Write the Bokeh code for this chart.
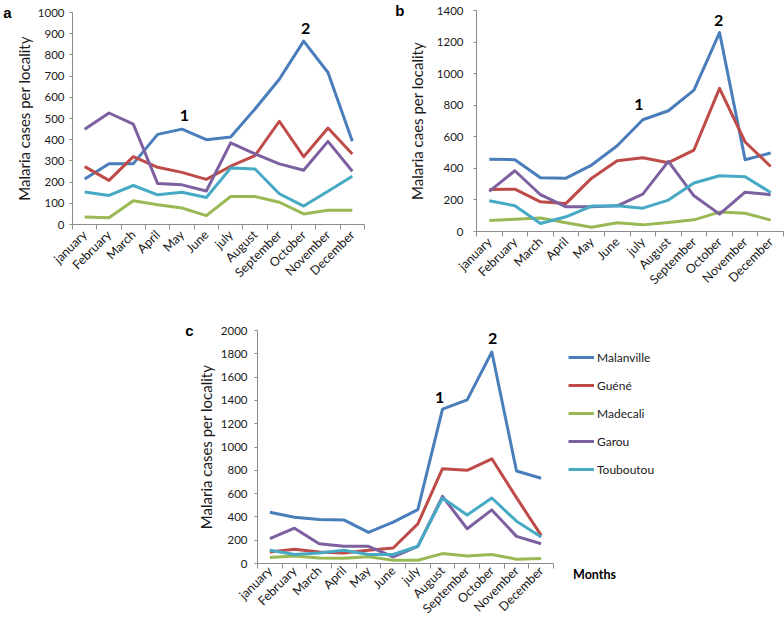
from bokeh.plotting import figure
from bokeh.models import (Range1d, FixedTicker, CustomJSTickFormatter, Label,
                          Legend, LegendItem, Spacer, LinearAxis)
from bokeh.layouts import column, row
from bokeh.embed import file_html
from bokeh.resources import INLINE

months = ["january", "February", "March", "April", "May", "June", "july",
          "August", "September", "October", "November", "December"]
localities = ["Malanville", "Guéné", "Madecali", "Garou", "Touboutou"]
colors = ["#4a7ebb", "#be4b48", "#98b954", "#7d60a0", "#46aac5"]

# Panel a
a_malanville = [215, 287, 287, 425, 450, 400, 413, 545, 685, 865, 717, 393]
a_guene = [273, 208, 320, 270, 246, 213, 275, 325, 487, 320, 455, 333]
a_madecali = [35, 32, 112, 93, 78, 42, 132, 132, 105, 50, 67, 67]
a_garou = [449, 526, 473, 193, 187, 158, 385, 333, 286, 256, 392, 251]
a_touboutou = [153, 137, 184, 140, 152, 127, 266, 262, 145, 87, 157, 228]
a_ticks = [0, 100, 200, 300, 400, 500, 600, 700, 800, 900, 1000]

# Panel b
b_malanville = [457, 455, 340, 338, 421, 543, 708, 765, 896, 1260, 455, 497]
b_guene = [266, 268, 188, 178, 338, 448, 467, 436, 516, 907, 567, 412]
b_madecali = [70, 78, 85, 55, 27, 55, 42, 57, 74, 123, 116, 72]
b_garou = [254, 385, 233, 156, 156, 163, 237, 444, 226, 110, 249, 233]
b_touboutou = [195, 163, 51, 93, 161, 163, 148, 199, 307, 353, 347, 247]
b_ticks = [0, 200, 400, 600, 800, 1000, 1200, 1400]

# Panel c
c_malanville = [440, 397, 377, 374, 267, 355, 462, 1325, 1404, 1815, 794, 732]
c_guene = [99, 122, 99, 91, 113, 133, 340, 814, 800, 899, 565, 241]
c_madecali = [51, 65, 48, 45, 57, 28, 28, 85, 65, 77, 37, 43]
c_garou = [213, 303, 170, 148, 148, 57, 148, 576, 298, 460, 233, 170]
c_touboutou = [113, 77, 91, 113, 77, 77, 148, 562, 417, 562, 363, 227]
c_ticks = [0, 200, 400, 600, 800, 1000, 1200, 1400, 1600, 1800, 2000]

FONT = "Lato"
AXIS_COLOR = "#8c8c8c"
TEXT_COLOR = "#1a1a1a"
LINE_W = 3


def panel(series, ticks, ylabel, width, height, bl, br, bt, bb, letter,
          peaks, label_std=8, axis_std=5, letter_std=4, xlabel_std=3):
    p = figure(width=width, height=height, output_backend="svg", toolbar_location=None,
               x_range=Range1d(0, len(months)), y_range=Range1d(ticks[0], ticks[-1]),
               min_border_left=bl, min_border_right=br, min_border_top=bt,
               min_border_bottom=bb, background_fill_color="white",
               border_fill_color="white", frame_align=False)
    p.outline_line_color = None
    p.grid.visible = False
    xs = [i + 0.5 for i in range(len(months))]
    rs = []
    for vals, col in zip(series, colors):
        rs.append(p.line(xs, vals, line_color=col, line_width=LINE_W, line_join="round"))

    xa = p.xaxis[0]
    xa.ticker = FixedTicker(ticks=xs, minor_ticks=list(range(len(months) + 1)))
    xa.formatter = CustomJSTickFormatter(args=dict(months=months),
                                         code="return months[Math.floor(tick)] || '';")
    xa.major_tick_in = 0
    xa.major_tick_out = 0
    xa.minor_tick_in = 0
    xa.minor_tick_out = 5
    xa.minor_tick_line_color = AXIS_COLOR
    xa.axis_line_color = AXIS_COLOR
    xa.major_label_orientation = 0.785398
    xa.major_label_standoff = xlabel_std
    xa.major_label_text_font = FONT
    xa.major_label_text_font_size = "12.5px"
    xa.major_label_text_color = TEXT_COLOR

    ya = p.yaxis[0]
    ya.ticker = FixedTicker(ticks=ticks, minor_ticks=[])
    ya.major_tick_in = 0
    ya.major_tick_out = 3
    ya.major_tick_line_color = AXIS_COLOR
    ya.axis_line_color = AXIS_COLOR
    ya.major_label_standoff = label_std
    ya.major_label_text_font = FONT
    ya.major_label_text_font_size = "11.5px"
    ya.major_label_text_color = TEXT_COLOR
    ya.axis_label = ylabel
    ya.axis_label_text_font = FONT
    ya.axis_label_text_font_size = "15px"
    ya.axis_label_text_font_style = "normal"
    ya.axis_label_text_color = TEXT_COLOR
    ya.axis_label_standoff = axis_std

    # panel letter, drawn as the only tick label of an outer axis at the top value
    la = LinearAxis(ticker=FixedTicker(ticks=[ticks[-1]], minor_ticks=[]),
                    formatter=CustomJSTickFormatter(args=dict(letter=letter),
                                                    code="return letter;"),
                    axis_line_color=None, major_tick_line_color=None,
                    major_tick_in=0, major_tick_out=0, major_label_standoff=letter_std,
                    major_label_text_font="Liberation Sans",
                    major_label_text_font_style="bold",
                    major_label_text_font_size="15px", major_label_text_color="black")
    p.add_layout(la, "left")

    for num, (px, py) in peaks:
        p.add_layout(Label(x=px, y=py, text=num, text_font=FONT,
                           text_font_style="bold", text_font_size="16px",
                           text_color="black", text_align="center",
                           text_baseline="middle"))
    return p, rs


pa, _ = panel([a_malanville, a_guene, a_madecali, a_garou, a_touboutou], a_ticks,
              "Malaria cases per locality", 392, 300, 61, 28, 12, 76,
              "a", [("1", (4.6, 514)), ("2", (9.58, 925))],
              label_std=5, axis_std=2, letter_std=0)
pb, _ = panel([b_malanville, b_guene, b_madecali, b_garou, b_touboutou], b_ticks,
              "Malaria caes per locality", 392, 300, 79, 1, 10, 69,
              "b", [("1", (6.35, 805)), ("2", (9.46, 1337))],
              label_std=10, axis_std=8, letter_std=0)
pc, rc = panel([c_malanville, c_guene, c_madecali, c_garou, c_touboutou], c_ticks,
               "Malaria cases per locality", 410, 324, 107, 7, 30, 59,
               "c", [("1", (7.38, 1421)), ("2", (9.53, 1932))],
               label_std=7, axis_std=3, letter_std=0, xlabel_std=0)

# legend panel to the right of panel c (legend glyphs use invisible NaN lines)
LW, LH = 224, 324
pl = figure(width=LW, height=LH, output_backend="svg", toolbar_location=None,
            x_range=Range1d(0, LW), y_range=Range1d(0, LH),
            x_axis_location=None, y_axis_location=None, min_border=0,
            background_fill_color="white", border_fill_color="white",
            frame_align=False)
pl.outline_line_color = None
pl.grid.visible = False
nan = float("nan")
leg_rs = [pl.line(x=[nan, nan], y=[nan, nan], line_color=c, line_width=LINE_W)
          for c in colors]
legend = Legend(items=[LegendItem(label=n, renderers=[r]) for n, r in zip(localities, leg_rs)],
                location=(8, 145), border_line_color=None, background_fill_alpha=0,
                glyph_width=26, glyph_height=20, label_height=20, spacing=8,
                label_standoff=3, padding=0, margin=0,
                label_text_font=FONT, label_text_font_size="12px",
                label_text_color=TEXT_COLOR)
pl.add_layout(legend, "center")
pl.add_layout(Label(x=34, y=50, text="Months", text_font=FONT,
                    text_font_style="bold", text_font_size="12.5px", text_color="black",
                    text_align="center", text_baseline="middle"))

layout = column(row(pa, pb), row(Spacer(width=150, height=324), pc, pl))
open("out.html", "w").write(file_html(layout, INLINE))
